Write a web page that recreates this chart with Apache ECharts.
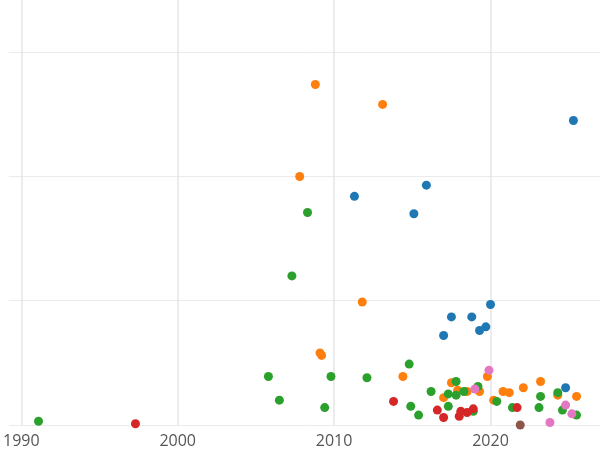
<!DOCTYPE html><html><head><meta charset="utf-8">
<script src="https://cdn.jsdelivr.net/npm/echarts@6/dist/echarts.min.js"></script>
<style>html,body{margin:0;padding:0;background:#fff}#c{width:600px;height:450px}</style></head><body><div id="c"></div>
<script>
const xTicks=[1990,2000,2010,2020];
const yTicks=[0,1,2,3];
const orangeX=[2008.8,2013.1,2007.8,2011.8,2009.1,2009.2,2014.4,2017.0,2017.5,2017.9,2018.5,2019.3,2019.8,2020.2,2020.8,2021.2,2022.1,2023.2,2024.3,2025.5];
const orangeY=[2.74,2.58,2.0,0.99,0.58,0.56,0.39,0.22,0.34,0.28,0.27,0.27,0.39,0.20,0.27,0.26,0.30,0.35,0.24,0.23];
const blueX=[2025.3,2011.3,2015.9,2015.1,2017.5,2018.8,2020.0,2019.7,2019.3,2017.0,2024.8];
const blueY=[2.45,1.84,1.93,1.70,0.87,0.87,0.97,0.79,0.76,0.72,0.30];
const greenX=[2008.3,2007.3,2005.8,2006.5,2009.4,2009.8,2012.1,2014.8,1991.1,2014.9,2015.4,2016.2,2017.3,2017.3,2017.8,2017.8,2018.3,2018.9,2019.2,2020.4,2021.4,2023.1,2023.2,2024.3,2024.6,2025.5];
const greenY=[1.71,1.20,0.39,0.20,0.14,0.39,0.38,0.49,0.03,0.15,0.08,0.27,0.15,0.25,0.35,0.24,0.27,0.11,0.31,0.19,0.14,0.14,0.23,0.26,0.12,0.08];
const redX=[1997.3,2013.8,2016.6,2017.0,2018.0,2018.1,2018.5,2018.9,2021.7];
const redY=[0.01,0.19,0.12,0.06,0.07,0.11,0.10,0.13,0.14];
const pinkX=[2019.9,2019.0,2023.8,2024.8,2025.2];
const pinkY=[0.44,0.29,0.02,0.16,0.09];
const brownX=[2021.9];
const brownY=[0.0];
const zip=(a,b)=>a.map((v,i)=>[v,b[i]]);
const mk=(x,y,c)=>({type:'scatter',data:zip(x,y),symbolSize:9,itemStyle:{color:c,opacity:1},clip:false});
const chart=echarts.init(document.getElementById('c'));
chart.setOption({animation:false,
grid:{left:0,right:0,top:0,bottom:25,containLabel:false},
xAxis:{type:'value',min:1989.2,max:2027.0,axisLine:{show:false},
 axisTick:{show:false,customValues:xTicks},
 splitLine:{show:true,lineStyle:{color:'#e6e6e6',width:1.5}},
 axisLabel:{customValues:xTicks,formatter:v=>String(v),color:'#555',fontSize:16,fontFamily:'Open Sans',margin:8}},
yAxis:{type:'value',min:0,max:3.42,axisLine:{show:false},
 axisTick:{show:false,customValues:yTicks},
 axisLabel:{show:false,customValues:yTicks},
 splitLine:{show:true,lineStyle:{color:'#ebebeb',width:1}}},
series:[mk(blueX,blueY,'#1f77b4'),mk(orangeX,orangeY,'#ff7f0e'),mk(greenX,greenY,'#2ca02c'),mk(redX,redY,'#d62728'),mk(pinkX,pinkY,'#e377c2'),mk(brownX,brownY,'#8c564b')]
});
</script></body></html>
